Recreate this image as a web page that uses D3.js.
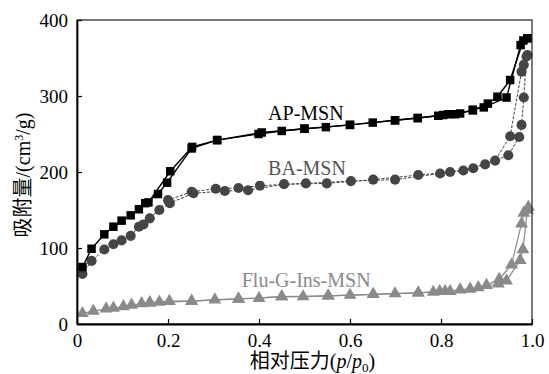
<!DOCTYPE html>
<html>
<head>
<meta charset="utf-8">
<script src="https://cdn.jsdelivr.net/npm/d3@7/dist/d3.min.js"></script>
<style>
  html, body { margin: 0; padding: 0; background: #fff; }
  svg { display: block; }
  text { font-family: "Liberation Serif", "Noto Sans CJK SC", serif; }
</style>
</head>
<body>
<svg id="chart" width="549" height="374"></svg>
<script>
// N2 adsorption / desorption isotherms (relative pressure vs adsorbed volume)
const xTicks = [0, 0.2, 0.4, 0.6, 0.8, 1.0];
const xTickLabels = ["0", "0.2", "0.4", "0.6", "0.8", "1.0"];
const yTicks = [0, 100, 200, 300, 400];
const yTickLabels = ["0", "100", "200", "300", "400"];

const seriesNames = ["AP-MSN", "BA-MSN", "Flu-G-Ins-MSN"];

// AP-MSN
const apAdsP = [0.012,0.032,0.060,0.080,0.098,0.118,0.136,0.150,0.178,0.198,0.252,0.308,0.399,0.450,0.500,0.547,0.600,0.650,0.699,0.749,0.794,0.816,0.842,0.870,0.894,0.944,0.975,0.990];
const apAdsV = [75,99,118,128,136,143,151,159,171,186,231,242,250,254,257,259,262,265,268,271,274,276,277,282,285,298,367,376];
const apDesP = [0.990,0.981,0.952,0.924,0.903,0.870,0.831,0.805,0.749,0.699,0.600,0.500,0.406,0.308,0.253,0.205,0.157];
const apDesV = [376,373,321,299,290,281,276,275,271,268,262,257,252,242,233,201,160];

// BA-MSN
const baAdsP = [0.012,0.032,0.060,0.080,0.098,0.118,0.136,0.160,0.181,0.204,0.256,0.325,0.376,0.455,0.549,0.651,0.750,0.820,0.871,0.897,0.948,0.972,0.977,0.982,0.988];
const baAdsV = [66,83,98,105,110,116,128,139,150,159,172,175,176,184,185,190,196,200,205,210,222,246,262,298,352];
const baDesP = [0.990,0.982,0.977,0.952,0.919,0.849,0.798,0.699,0.602,0.503,0.402,0.355,0.305,0.252,0.200,0.146];
const baDesV = [354,341,332,247,215,202,198,190,188,185,182,179,178,174,163,131];

// Flu-G-Ins-MSN
const fluAdsP = [0.012,0.036,0.064,0.080,0.102,0.120,0.142,0.160,0.181,0.203,0.252,0.303,0.355,0.400,0.450,0.497,0.552,0.600,0.651,0.699,0.750,0.783,0.809,0.842,0.882,0.926,0.944,0.974,0.980,0.990];
const fluAdsV = [14,17,20,21,23,25,27,28,29,30,30,32,33,34,36,36,37,38,39,40,41,42,43,45,48,53,57,84,98,150];
const fluDesP = [0.992,0.982,0.977,0.955,0.928,0.900,0.864,0.820,0.797,0.750,0.651,0.552,0.450,0.355,0.252,0.160];
const fluDesV = [154,146,132,78,59,51,46,43,43,41,39,37,36,33,30,28];

const svg = d3.select("#chart");
const margin = { left: 77, top: 20, right: 17, bottom: 50 };
const W = 549 - margin.left - margin.right;
const H = 374 - margin.top - margin.bottom;

const x = d3.scaleLinear().domain([0, 1]).range([0, W]);
const y = d3.scaleLinear().domain([0, 400]).range([H, 0]);

const g = svg.append("g").attr("transform", `translate(${margin.left},${margin.top})`);

const zip = (ps, vs) => ps.map((p, i) => ({ p, v: vs[i] }));
const line = d3.line().x(d => x(d.p)).y(d => y(d.v));

const styles = [
  { name: seriesNames[2], ads: zip(fluAdsP, fluAdsV), des: zip(fluDesP, fluDesV),
    color: "#8a8a8a", dash: null, sym: d3.symbolTriangle, size: 72, lw: 1.2 },
  { name: seriesNames[1], ads: zip(baAdsP, baAdsV), des: zip(baDesP, baDesV),
    color: "#454545", dash: "3,1.5", sym: d3.symbolCircle, size: 80, lw: 1 },
  { name: seriesNames[0], ads: zip(apAdsP, apAdsV), des: zip(apDesP, apDesV),
    color: "#000", dash: null, sym: d3.symbolSquare, size: 72, lw: 1.4 }
];

styles.forEach(s => {
  [s.ads, s.des].forEach(branch => {
    g.append("path")
      .datum(branch)
      .attr("d", line)
      .attr("fill", "none")
      .attr("stroke", s.color)
      .attr("stroke-width", s.lw)
      .attr("stroke-dasharray", s.dash);
  });
  const pts = s.ads.concat(s.des);
  g.append("g").selectAll("path")
    .data(pts)
    .join("path")
    .attr("transform", d => `translate(${x(d.p)},${y(d.v)})`)
    .attr("d", d3.symbol().type(s.sym).size(s.size))
    .attr("fill", s.color);
});

// Series labels
const labelPos = [
  { text: seriesNames[0], p: 0.42, v: 268, color: "#000" },
  { text: seriesNames[1], p: 0.42, v: 196, color: "#555" },
  { text: seriesNames[2], p: 0.362, v: 48.5, color: "#8a8a8a" }
];
g.selectAll("text.series")
  .data(labelPos)
  .join("text")
  .attr("class", "series")
  .attr("x", d => x(d.p))
  .attr("y", d => y(d.v))
  .attr("fill", d => d.color)
  .attr("font-size", 20)
  .text(d => d.text);

// Frame
g.append("rect")
  .attr("x", 0).attr("y", 0).attr("width", W).attr("height", H)
  .attr("fill", "none").attr("stroke", "#222").attr("stroke-width", 1.2);

// Axes with inward ticks
const xAxis = d3.axisBottom(x).tickValues(xTicks).tickSizeInner(-5).tickSizeOuter(0)
  .tickPadding(10).tickFormat((d, i) => xTickLabels[i]);
const yAxis = d3.axisLeft(y).tickValues(yTicks).tickSizeInner(-5).tickSizeOuter(0)
  .tickPadding(9).tickFormat((d, i) => yTickLabels[i]);

const gx = g.append("g").attr("transform", `translate(0,${H})`).call(xAxis);
const gy = g.append("g").call(yAxis);
[gx, gy].forEach(a => {
  a.select(".domain").attr("stroke", "#000").attr("stroke-width", 1.8);
  a.selectAll(".tick line").attr("stroke", "#000").attr("stroke-width", 1.2);
  a.selectAll(".tick text").attr("font-size", 19).attr("fill", "#000")
    .attr("font-family", "Liberation Serif, serif");
});

// Axis titles
const xt = svg.append("text")
  .attr("x", margin.left + W / 2 + 8)
  .attr("y", 368)
  .attr("text-anchor", "middle")
  .attr("font-size", 20)
  .attr("fill", "#000");
xt.append("tspan").text("相对压力(");
xt.append("tspan").attr("font-style", "italic").text("p");
xt.append("tspan").text("/");
xt.append("tspan").attr("font-style", "italic").text("p");
xt.append("tspan").attr("font-size", 13).attr("dy", 4).text("0");
xt.append("tspan").attr("dy", -4).text(")");

const yt = svg.append("text")
  .attr("transform", `translate(30,${margin.top + H / 2 + 3}) rotate(-90)`)
  .attr("text-anchor", "middle")
  .attr("font-size", 20)
  .attr("fill", "#000");
yt.append("tspan").text("吸附量/(cm");
yt.append("tspan").attr("font-size", 12).attr("dy", -7).text("3");
yt.append("tspan").attr("dy", 7).text("/g)");
</script>
</body>
</html>
